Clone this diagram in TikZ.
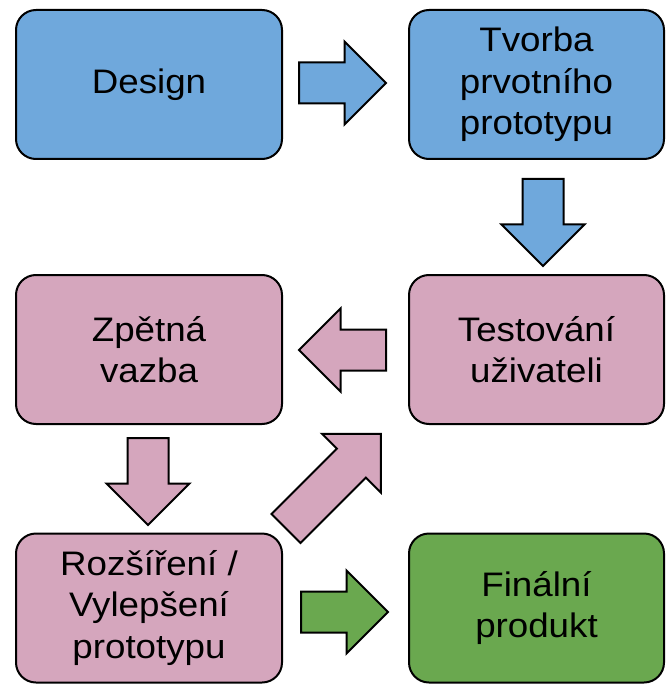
\documentclass[tikz,border=0pt]{standalone}
\usepackage{fontspec}
\setmainfont[FakeStretch=1.08]{Liberation Sans}
\usepackage{tikz}
\usetikzlibrary{shapes.arrows, calc}
\definecolor{designblue}{RGB}{111, 168, 220}
\definecolor{testpink}{RGB}{213, 166, 189}
\definecolor{finalgreen}{RGB}{106, 168, 79}
\newcommand{\stepfont}{\fontsize{34}{41.5}\selectfont}

\begin{document}
\begin{tikzpicture}[x=1pt, y=-1pt,
		stepbox/.style={draw=black, line width=2pt, rounded corners=20pt, minimum height=149pt, inner sep=2pt, align=center, font=\stepfont},
		flowarrow/.style={single arrow, draw=black, line width=2pt, inner xsep=0pt, inner ysep=19.5pt, outer sep=0pt, single arrow head extend=21pt, minimum height=87pt, anchor=tail}]
	\def\lw{266pt}
	\def\rw{255pt}
	\useasboundingbox (0,0) rectangle (667,684);

	% Row 1 (blue)
	\node[stepbox, fill=designblue, minimum width=\lw] (design) at (149,84.5) {Design};
	\node[stepbox, fill=designblue, minimum width=\rw] (tvorba) at (536.5,84.5) {Tvorba\\prvotního\\prototypu};
	% Row 2 (pink)
	\node[stepbox, fill=testpink, minimum width=\lw] (zpetna) at (149,349.5) {Zpětná\\vazba};
	\node[stepbox, fill=testpink, minimum width=\rw] (testovani) at (536.5,349.5) {Testování\\uživateli};
	% Row 3
	\node[stepbox, fill=testpink, minimum width=\lw] (rozsireni) at (149,608) {Rozšíření /\\Vylepšení\\prototypu};
	\node[stepbox, fill=finalgreen, minimum width=\rw] (finalni) at (536.5,608) {Finální\\produkt};

	% arrows between the steps (placed by their tails)
	\node[flowarrow, fill=designblue] (a1) at ($(design.east) + (16,-1.5)$) {};
	\node[flowarrow, fill=designblue, rotate=-90] (a2) at ($(tvorba.south) + (6.5,19)$) {};
	\node[flowarrow, fill=testpink, rotate=180] (a3) at ($(testovani.west) + (-22,0.5)$) {};
	\node[flowarrow, fill=testpink, rotate=-90] (a4) at ($(zpetna.south) + (-1,13)$) {};
	\node[flowarrow, fill=testpink, rotate=45, minimum height=134pt] (a5) at ($(rozsireni.north east) + (3,-4)$) {};
	\node[flowarrow, fill=finalgreen] (a6) at ($(rozsireni.east) + (18,4)$) {};

\end{tikzpicture}
\end{document}
